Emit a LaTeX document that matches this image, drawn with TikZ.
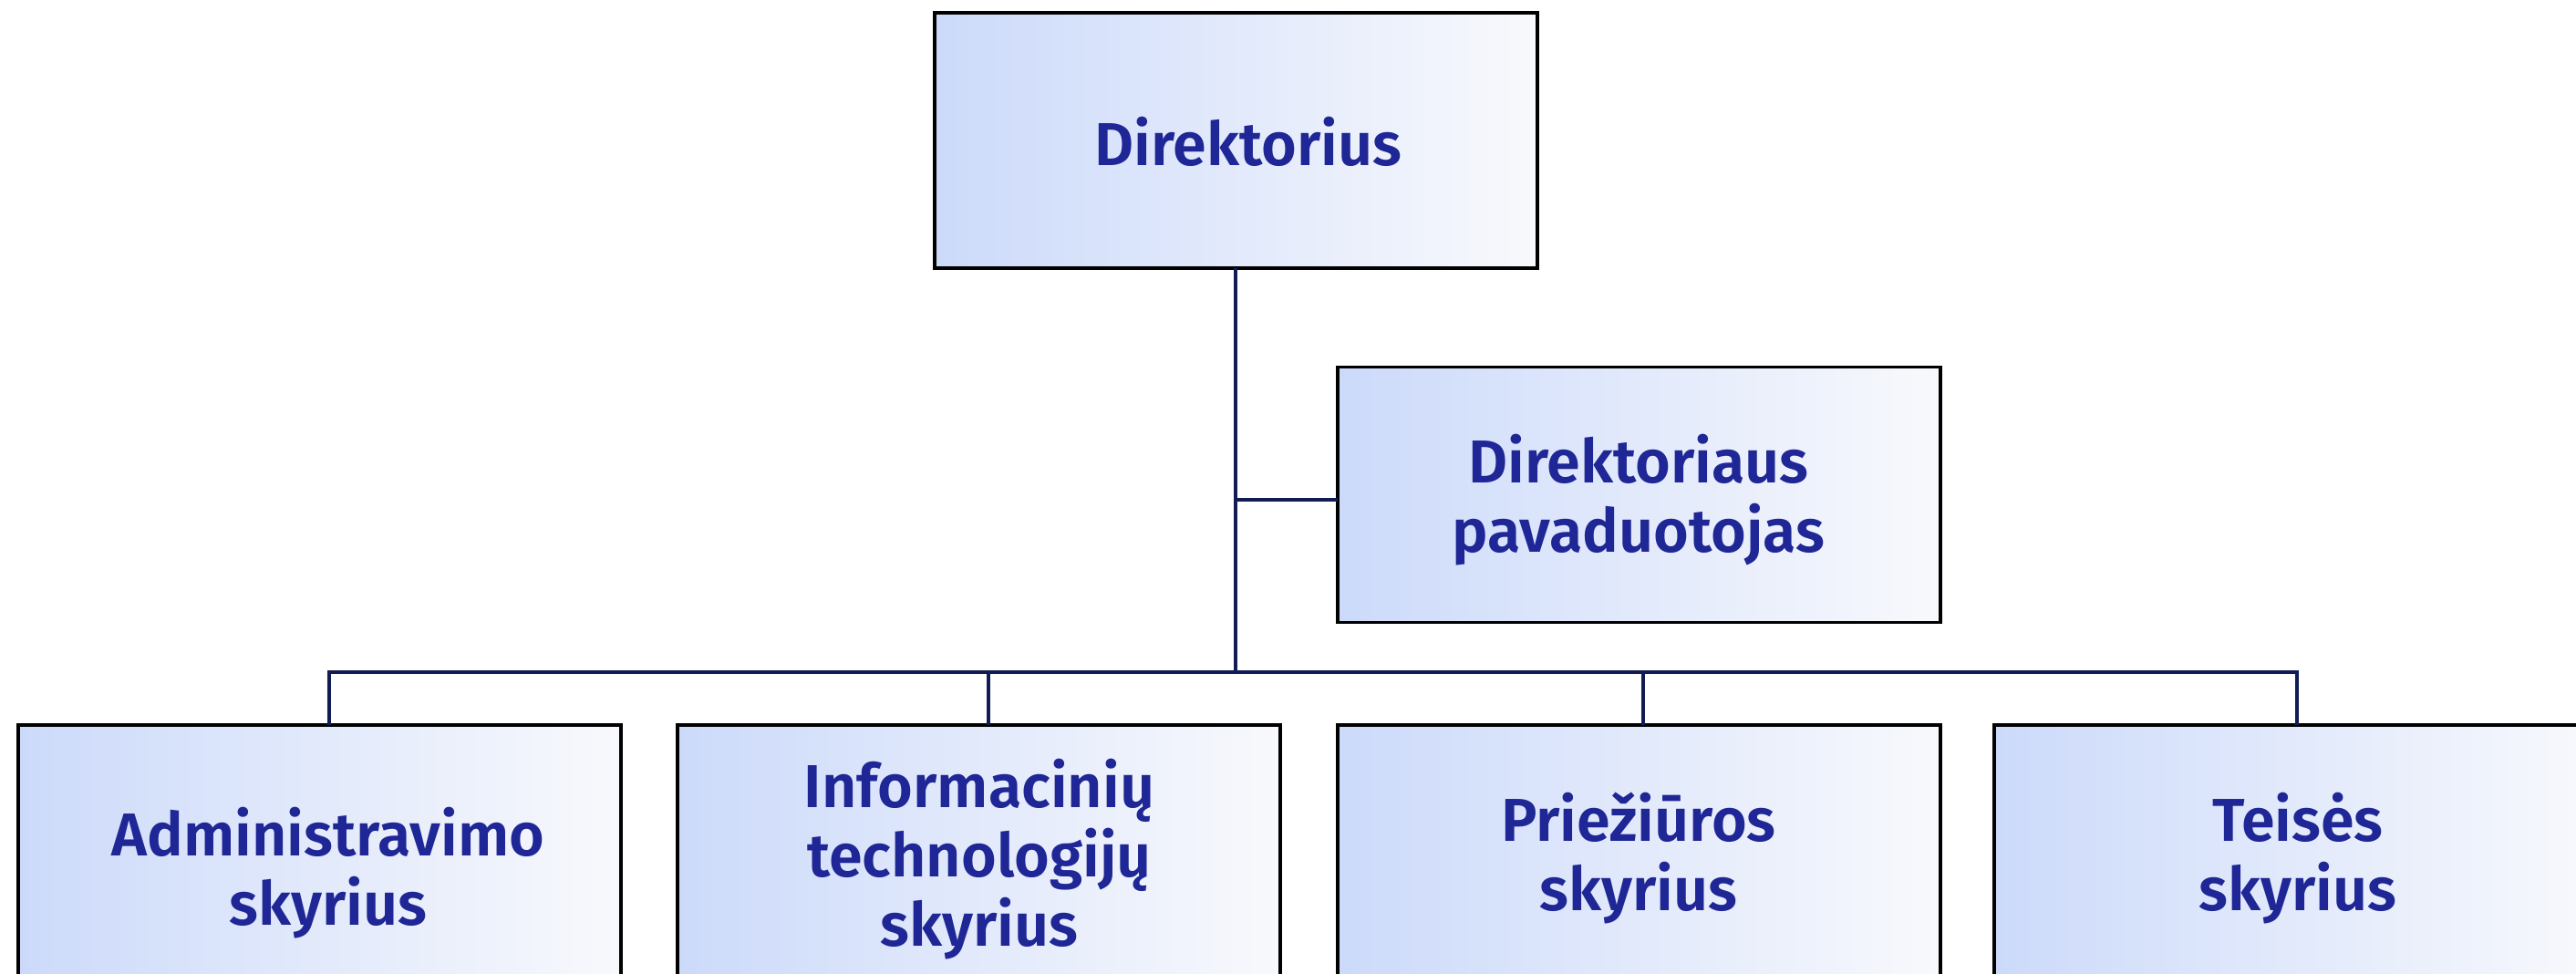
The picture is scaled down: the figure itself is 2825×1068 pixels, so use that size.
\documentclass[tikz,border=0pt]{standalone}
\usepackage{fontspec}
\setmainfont{Fira Sans}[BoldFont={Fira Sans SemiBold}]
\definecolor{txtc}{RGB}{31,38,150}
\definecolor{connc}{RGB}{18,28,84}
\definecolor{gl}{RGB}{204,218,250}
\definecolor{gr}{RGB}{248,249,252}
\tikzset{
  orgbox/.style={draw=black, line width=0.85pt, left color=gl, right color=gr,
    minimum width=165.25pt, minimum height=70pt, inner sep=0pt, outer sep=0pt},
  lbl/.style={text=txtc, font=\fontsize{16.6}{19}\selectfont\bfseries, align=center, inner sep=0pt},
  connline/.style={draw=connc, line width=0.8pt}
}
\begin{document}
\begin{tikzpicture}[x=0.25pt,y=-0.25pt]
\useasboundingbox (0,0) rectangle (2825,1068);
\clip (0,0) rectangle (2825,1068);
\node[orgbox] (dir) at (1355.5,154) {};
\node[orgbox] (dep) at (1797.5,542.5) {};
\node[orgbox] (adm) at (350.5,935) {};
\node[orgbox] (it) at (1073.5,935) {};
\node[orgbox] (prz) at (1797.5,935) {};
\node[orgbox] (tei) at (2517.5,935) {};
\coordinate (hub) at (1355,737);
\coordinate (bj) at (1355,548);
\coordinate (busL) at (361,737);
\coordinate (busR) at (2519,737);
\coordinate (dit) at (1084,737);
\coordinate (dprz) at (1802,737);
\draw[connline] (dir.south -| hub) -- (hub);
\draw[connline] (bj) -- (bj -| dep.west);
\draw[connline] (busL |- adm.north) -- (busL) -- (busR) -- (busR |- tei.north);
\draw[connline] (dit) -- (dit |- it.north);
\draw[connline] (dprz) -- (dprz |- prz.north);
\node[lbl] (tdir) at (1369,155) {Direktorius};
\node[lbl] (tdep) at (1797,548) {Direktoriaus\\pavaduotojas};
\node[lbl] (tadm) at (360,957) {Administravimo\\skyrius};
\node[lbl] (tit) at (1074,942) {Informacinių\\technologijų\\skyrius};
\node[lbl] (tprz) at (1797,941) {Priežiūros\\skyrius};
\node[lbl] (ttei) at (2520,941) {Teisės\\skyrius};
\end{tikzpicture}
\end{document}
